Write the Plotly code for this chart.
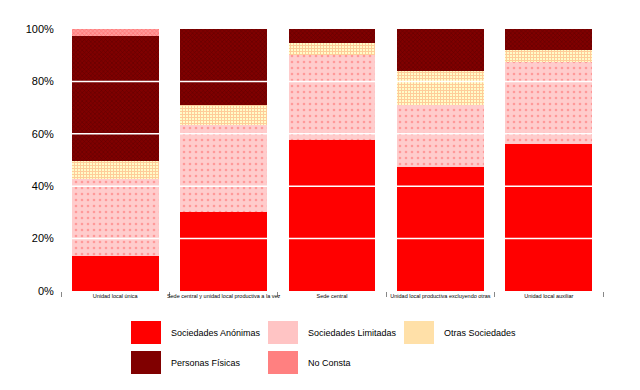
import plotly.graph_objects as go

categories = [
    "Unidad local única",
    "Sede central y unidad local productiva a la vez",
    "Sede central",
    "Unidad local productiva excluyendo otras",
    "Unidad local auxiliar",
]
series_names = ["Sociedades Anónimas", "Sociedades Limitadas", "Otras Sociedades",
                "Personas Físicas", "No Consta"]
sa = [13.5, 30.2, 57.6, 47.4, 56.1]
sl = [29.1, 33.0, 32.5, 23.6, 31.4]
os_ = [7.1, 7.8, 4.7, 13.0, 4.5]
pf = [47.7, 29.0, 5.2, 16.0, 8.0]
nc = [2.6, 0.0, 0.0, 0.0, 0.0]
y_ticks = [0, 20, 40, 60, 80, 100]
y_tick_labels = ["0%", "20%", "40%", "60%", "80%", "100%"]

values = [sa, sl, os_, pf, nc]
styles = [
    dict(color="#FF0000"),
    dict(color="#FFCCCC", pattern=dict(shape=".", bgcolor="#FFCCCC", fgcolor="#FF9999",
                                        size=6, solidity=0.15, fillmode="replace")),
    dict(color="#FFFFCC", pattern=dict(shape="+", bgcolor="#FFFFCC", fgcolor="#FFCC99",
                                        size=3, solidity=0.6, fillmode="replace")),
    dict(color="#800000", pattern=dict(shape="x", bgcolor="#800000", fgcolor="#5A0000",
                                        size=3, solidity=0.3, fillmode="replace")),
    dict(color="#FF8080", pattern=dict(shape="x", bgcolor="#FF9999", fgcolor="#FF6666",
                                        size=3, solidity=0.3, fillmode="replace")),
]
swatch_colors = ["#FF0000", "#FFC4C4", "#FFE0A8", "#800000", "#FF8080"]

fig = go.Figure()
for name, vals, st in zip(series_names, values, styles):
    fig.add_trace(go.Bar(x=categories, y=vals, name=name, marker=dict(line=dict(width=0), **st),
                         showlegend=False))

# page body has an 8px margin; target plot area in screen pixels
OFF = 8
L, R, T, B = 61, 603, 29, 291
FW, FH = 640 - OFF, 390 - OFF
W, H = R - L, B - T

def px(x):
    return (x - L) / W

def py(y):
    return (B - y) / H

shapes = []
for t in y_ticks[1:-1]:
    shapes.append(dict(type="line", xref="paper", yref="y", x0=0, x1=1, y0=t, y1=t,
                       line=dict(color="white", width=1.5), layer="above"))

annotations = []
legend_cols = [(131, 169), (268, 306), (404, 442)]
legend_rows = [(321, 344), (351, 374)]
for i, name in enumerate(series_names):
    r, c = divmod(i, 3)
    sx, tx = legend_cols[c]
    y0, y1 = legend_rows[r]
    shapes.append(dict(type="rect", xref="paper", yref="paper",
                       x0=px(sx), x1=px(sx + 30), y0=py(y1), y1=py(y0),
                       fillcolor=swatch_colors[i], line=dict(width=0)))
    annotations.append(dict(xref="paper", yref="paper", x=px(tx), y=py((y0 + y1) / 2),
                            text=name, showarrow=False, xanchor="left", yanchor="middle",
                            font=dict(family="Liberation Sans, Arial", size=9, color="black")))

fig.update_layout(
    width=FW, height=FH,
    margin=dict(l=L - OFF, r=FW - (R - OFF), t=T - OFF, b=FH - (B - OFF), autoexpand=False),
    barmode="stack", bargap=0.2,
    plot_bgcolor="white", paper_bgcolor="white",
    shapes=shapes, annotations=annotations,
    font=dict(family="Liberation Sans, Arial", color="black"),
    xaxis=dict(tickson="boundaries", ticks="outside", ticklen=5, tickcolor="#888888",
               tickwidth=1, showline=False, showgrid=False, tickangle=0,
               tickfont=dict(size=5.5, family="Liberation Sans, Arial", color="black")),
    yaxis=dict(range=[0, 100], tickmode="array", tickvals=y_ticks, ticktext=y_tick_labels,
               showgrid=False, zeroline=False, showline=False, ticks="outside", ticklen=4,
               tickcolor="rgba(0,0,0,0)",
               tickfont=dict(size=11, family="Liberation Sans, Arial", color="black")),
)

fig.write_html("out.html")
